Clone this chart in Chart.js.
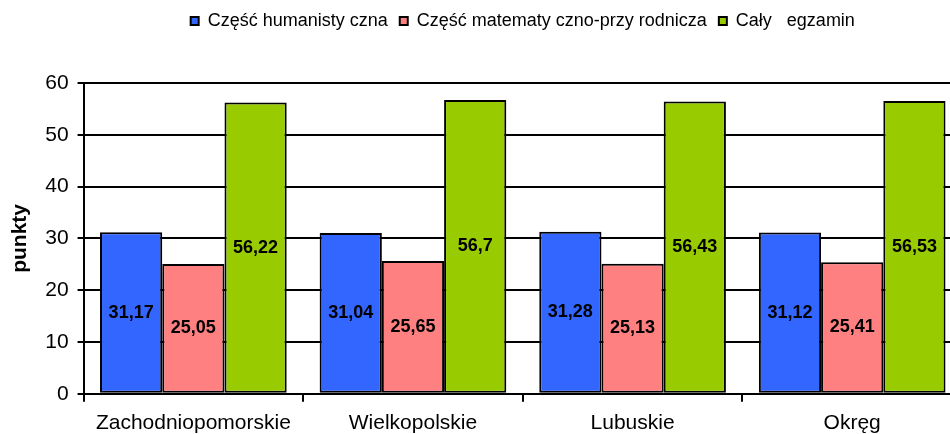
<!DOCTYPE html>
<html lang="pl">
<head>
<meta charset="utf-8">
<title>Wyniki egzaminu</title>
<script src="https://cdn.jsdelivr.net/npm/chart.js@4"></script>
<style>
    html, body { margin: 0; padding: 0; background: #fff; overflow: hidden; }
    #wrap { width: 970px; height: 445px; }
</style>
</head>
<body>
<div id="wrap"><canvas id="chart" width="970" height="445"></canvas></div>
<script>
const regions = ["Zachodniopomorskie", "Wielkopolskie", "Lubuskie", "Okręg"];
const humanistic = [31.17, 31.04, 31.28, 31.12];
const mathScience = [25.05, 25.65, 25.13, 25.41];
const wholeExam = [56.22, 56.7, 56.43, 56.53];
const yTicks = [0, 10, 20, 30, 40, 50, 60];

const fontFamily = "'Liberation Sans', Arial, sans-serif";

function dataset(label, data, color) {
    return {
        label,
        data,
        backgroundColor: color,
        borderColor: "#000",
        borderWidth: 2,
        borderSkipped: false,
        categoryPercentage: 0.85,
        barPercentage: 1.0,
    };
}

// value labels centred inside each bar, Polish decimal comma
const barLabels = {
    id: "barLabels",
    afterDatasetsDraw(chart) {
        const ctx = chart.ctx;
        ctx.save();
        ctx.font = `bold 18px ${fontFamily}`;
        ctx.fillStyle = "#000";
        ctx.textAlign = "center";
        ctx.textBaseline = "middle";
        chart.data.datasets.forEach((ds, i) => {
            chart.getDatasetMeta(i).data.forEach((bar, j) => {
                const text = String(ds.data[j]).replace(".", ",");
                ctx.fillText(text, bar.x, (bar.y + bar.base) / 2);
            });
        });
        ctx.restore();
    },
};

// leave white space between the legend and the plot
const legendSpace = {
    id: "legendSpace",
    beforeInit(chart) {
        const fit = chart.legend.fit;
        chart.legend.fit = function () {
            fit.bind(chart.legend)();
            this.height += 43;
        };
    },
};

new Chart(document.getElementById("chart"), {
    type: "bar",
    data: {
        labels: regions,
        datasets: [
            dataset("Część humanisty czna", humanistic, "#3366ff"),
            dataset("Część matematy czno-przy rodnicza", mathScience, "#ff8080"),
            dataset("Cały   egzamin", wholeExam, "#99cc00"),
        ],
    },
    options: {
        responsive: false,
        animation: false,
        layout: { padding: { left: 5, right: 8, top: 0, bottom: 0 } },
        plugins: {
            legend: {
                position: "top",
                fullSize: false,
                labels: {
                    boxWidth: 8,
                    boxHeight: 8,
                    padding: 12,
                    color: "#000",
                    font: { family: fontFamily, size: 18 },
                },
            },
            tooltip: { enabled: false },
        },
        scales: {
            x: {
                offset: true,
                grid: {
                    display: true,
                    offset: true,
                    drawOnChartArea: false,
                    drawTicks: true,
                    tickLength: 8,
                    color: "#000",
                    lineWidth: 2,
                },
                border: { display: true, color: "#000", width: 2 },
                ticks: {
                    color: "#000",
                    padding: 9,
                    font: { family: fontFamily, size: 21 },
                },
            },
            y: {
                min: 0,
                max: 60,
                afterBuildTicks(scale) {
                    scale.ticks = yTicks.map((value) => ({ value }));
                },
                grid: {
                    color: "#000",
                    lineWidth: 2,
                    tickLength: 6,
                },
                border: { display: true, color: "#000", width: 2 },
                ticks: {
                    color: "#000",
                    padding: 9,
                    font: { family: fontFamily, size: 21 },
                },
                title: {
                    display: true,
                    text: "punkty",
                    color: "#000",
                    padding: { top: 3, bottom: 3 },
                    font: { family: fontFamily, size: 21, weight: "bold" },
                },
            },
        },
    },
    plugins: [barLabels, legendSpace],
});
</script>
</body>
</html>
